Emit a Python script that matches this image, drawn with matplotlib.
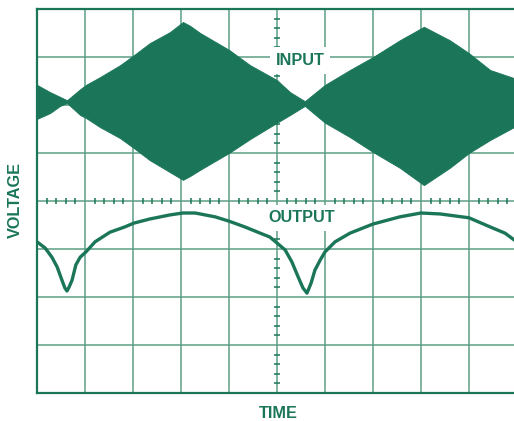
import numpy as np
import matplotlib
matplotlib.use("Agg")
import matplotlib.pyplot as plt

plt.rcParams["font.family"] = ["Liberation Sans", "DejaVu Sans"]

# screen units: 1 = one scope division, y = 0 is the centre line
in_x = [0, 0.27, 0.48, 0.625, 0.90, 1.02, 1.31, 1.73, 2.02, 2.35, 2.77, 3.04, 3.19,
        3.40, 4.0, 4.44, 5.0, 5.27, 5.58, 6.0, 6.52, 7.0, 7.56, 8.06, 8.60, 9.0,
        9.44, 9.94]
in_top = [2.42, 2.27, 2.17, 2.10, 2.33, 2.42, 2.58, 2.83, 3.04, 3.29, 3.52, 3.73, 3.65,
          3.50, 3.15, 2.83, 2.52, 2.27, 2.08, 2.42, 2.73, 3.0, 3.35, 3.63, 3.35, 3.08,
          2.73, 2.56]
in_bot = [1.71, 1.83, 1.98, 2.04, 1.79, 1.73, 1.54, 1.31, 1.10, 0.85, 0.60, 0.44, 0.52,
          0.65, 1.0, 1.29, 1.63, 1.79, 1.98, 1.63, 1.33, 1.02, 0.69, 0.33, 0.69, 1.0,
          1.27, 1.54]

out_x = [0, 0.17, 0.31, 0.42, 0.52, 0.58, 0.625, 0.67, 0.73, 0.81, 0.90, 1.02, 1.21,
         1.52, 1.83, 2.02, 2.35, 2.77, 3.04, 3.29, 3.40, 3.71, 4.0, 4.33, 4.65, 4.85,
         5.0, 5.17, 5.31, 5.44, 5.54, 5.625, 5.71, 5.79, 5.90, 6.0, 6.21, 6.52, 7.0,
         7.56, 8.0, 8.40, 9.0, 9.44, 9.75, 9.94]
out_y = [-0.85, -0.98, -1.17, -1.375, -1.65, -1.81, -1.875, -1.79, -1.65, -1.33, -1.17,
         -1.06, -0.85, -0.65, -0.54, -0.46, -0.375, -0.29, -0.25, -0.25, -0.27, -0.33,
         -0.42, -0.54, -0.67, -0.75, -0.875, -1.02, -1.27, -1.58, -1.81, -1.92, -1.71,
         -1.44, -1.23, -1.06, -0.85, -0.67, -0.48, -0.33, -0.25, -0.27, -0.35, -0.54,
         -0.67, -0.81]

green = "#1b7659"
grid_c = "#5c9f84"

W, H = 514, 421
fig = plt.figure(figsize=(W / 100, H / 100), dpi=100)
ax = fig.add_axes([37 / W, (H - 393) / H, 477 / W, 384 / H])
ax.set_xlim(0, 477 / 48)
ax.set_ylim(-4, 4)
ax.set_xticks([])
ax.set_yticks([])

for s in ["left", "top", "bottom"]:
    ax.spines[s].set_color(green)
    ax.spines[s].set_linewidth(1.6)
ax.spines["right"].set_visible(False)

# graticule
for gx in range(1, 10):
    ax.axvline(gx, color=grid_c, lw=1.1, zorder=1)
for gy in range(-3, 4):
    ax.axhline(gy, color=grid_c, lw=1.1, zorder=1)

# minor marks on the centre lines
minor = np.arange(0, 10.01, 0.2)
minor = minor[np.abs(minor - np.round(minor)) > 1e-6]
ax.vlines(minor, -0.07, 0.07, color=green, lw=1.1, zorder=1)
minor_y = np.arange(-4, 4.01, 0.2)
minor_y = minor_y[np.abs(minor_y - np.round(minor_y)) > 1e-6]
ax.hlines(minor_y, 5 - 0.07, 5 + 0.07, color=green, lw=1.1, zorder=1)

# traces
ax.fill_between(in_x, in_bot, in_top, color=green, lw=0.6, edgecolor=green, zorder=2)
ax.plot(out_x, out_y, color=green, lw=2.4, zorder=2)

fs = 11.7
box = dict(boxstyle="square,pad=0.35", fc="white", ec="none")
ax.text(5.48, 2.93, "INPUT", color=green, fontsize=fs, fontweight="bold",
        ha="center", va="center", bbox=box, zorder=3)
ax.text(5.51, -0.35, "OUTPUT", color=green, fontsize=fs, fontweight="bold",
        ha="center", va="center", bbox=box, zorder=3)

fig.text(15 / W, 1 - 200 / H, "VOLTAGE", color=green, fontsize=fs, fontweight="bold",
         rotation=90, ha="center", va="center")
fig.text(278 / W, 1 - 413 / H, "TIME", color=green, fontsize=fs, fontweight="bold",
         ha="center", va="center")

fig.savefig("out.png", dpi=100)
